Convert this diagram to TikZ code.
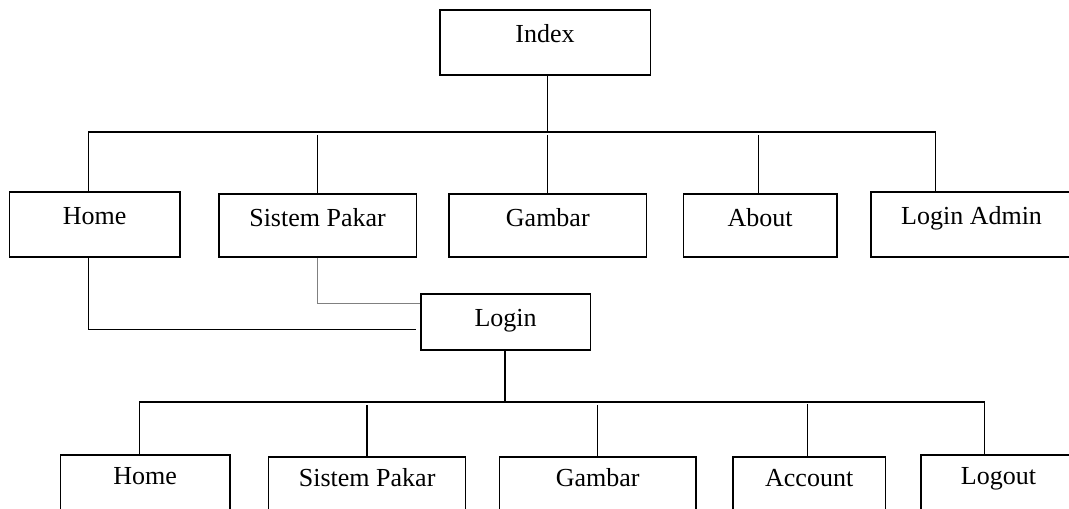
\documentclass[tikz,border=0pt]{standalone}
\usepackage{fontspec}
\setmainfont{Liberation Serif}
\usetikzlibrary{calc}

\begin{document}
\begin{tikzpicture}[
    x=1pt, y=-1pt,
    box/.style={draw, line width=1.5pt, inner sep=0pt, anchor=north west,
                text height=33pt, font=\fontsize{26}{30}\selectfont},
    lowbox/.style={box, text height=30pt, text depth=35pt},
    link/.style={draw, line width=1.4pt},
    softlink/.style={draw, gray, line width=0.9pt}
  ]
  \useasboundingbox (0,0) rectangle (1069,509);
  \clip (0,0) rectangle (1069,509);

  % top level
  \node[box, minimum width=210.6pt, text depth=32pt] (index) at (439,9) {Index};

  \node[box, minimum width=170.5pt, text depth=32pt] (home1) at (8.6,191) {Home};
  \node[box, minimum width=197.6pt, text depth=30pt] (sistem1) at (218,193) {Sistem Pakar};
  \node[box, minimum width=197.5pt, text depth=30pt] (gambar1) at (448.3,193) {Gambar};
  \node[box, minimum width=153.4pt, text depth=30pt] (about) at (682.6,193) {About};
  \node[box, minimum width=201pt, text depth=32pt] (admin) at (870.3,191) {Login Admin};

  \node[box, minimum width=169.4pt, text depth=23pt] (login) at (420.1,293) {Login};

  % second level
  \node[lowbox, minimum width=169.4pt] (home2) at (59.6,454) {Home};
  \node[lowbox, minimum width=197pt] (sistem2) at (267.9,456) {Sistem Pakar};
  \node[lowbox, minimum width=196.8pt] (gambar2) at (498.6,456) {Gambar};
  \node[lowbox, minimum width=152.7pt] (account) at (732.1,456) {Account};
  \node[lowbox, minimum width=155pt] (logout) at (920.2,454) {Logout};

  \coordinate (hub1) at (547.2,132);
  \coordinate (hub2) at (504.8,402);

  \draw[link] (index.south -| hub1) -- (hub1);
  \draw[link] ([xshift=-6pt]home1.north) |- (hub1) -| ([xshift=-36pt]admin.north);
  \draw[link] (sistem1.north) -- ([yshift=-3pt]sistem1.north |- hub1);
  \draw[link] (gambar1.north -| hub1) -- ([yshift=-3pt]hub1);
  \draw[link] ([xshift=-1.7pt]about.north) -- ([xshift=-1.7pt,yshift=-3pt]about.north |- hub1);

  \draw[link] ([xshift=-6pt]home1.south) |- ([xshift=-4.5pt,yshift=-8pt]login.west);
  \draw[softlink] (sistem1.south) |- ([yshift=18pt]login.west);

  \draw[link] (login.south -| hub2) -- (hub2);
  \draw[link] ([xshift=-5.5pt]home2.north) |- (hub2) -| ([xshift=-14pt]logout.north);
  \draw[link] (sistem2.north) -- ([yshift=-3pt]sistem2.north |- hub2);
  \draw[link] (gambar2.north) -- ([yshift=-3pt]gambar2.north |- hub2);
  \draw[link] ([xshift=-1.8pt]account.north) -- ([xshift=-1.8pt,yshift=-2pt]account.north |- hub2);
\end{tikzpicture}
\end{document}
